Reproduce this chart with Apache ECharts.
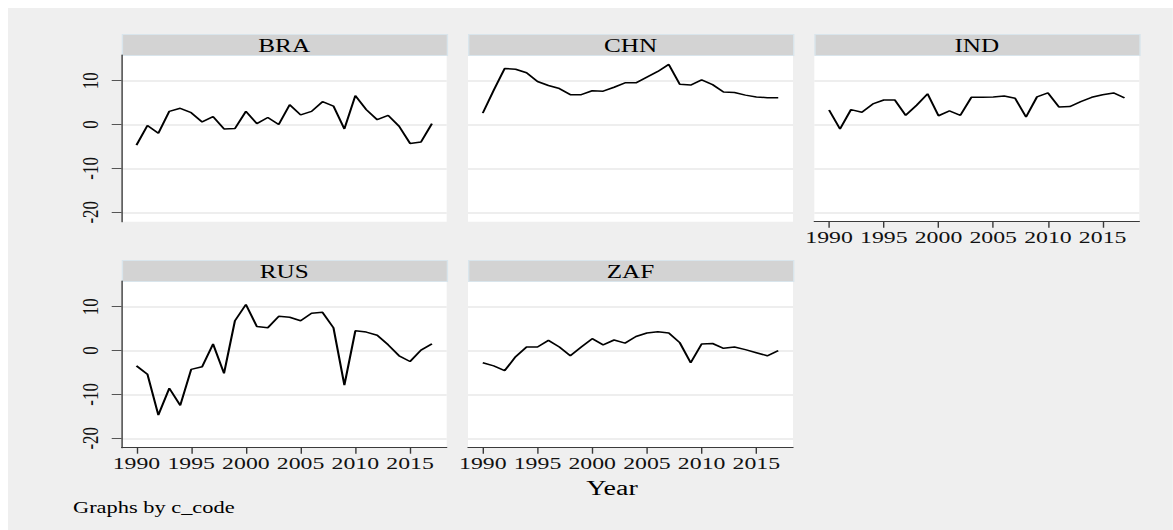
<!DOCTYPE html>
<html>
<head>
<meta charset="utf-8">
<script src="https://cdn.jsdelivr.net/npm/echarts@6/dist/echarts.min.js"></script>
<style>
  html, body { margin: 0; padding: 0; background: #ffffff; width: 1173px; height: 530px; overflow: hidden; }
  #chart {
    position: absolute; left: 8px; top: 8px;
    height: 522px;
    background: #efefef;
    transform-origin: 0 0;
  }
</style>
</head>
<body>
<div id="chart"></div>
<script>
// Annual values by country, 1990-2017
const years = [1990,1991,1992,1993,1994,1995,1996,1997,1998,1999,2000,2001,2002,2003,
               2004,2005,2006,2007,2008,2009,2010,2011,2012,2013,2014,2015,2016,2017];
const bra = [-4.7,-0.2,-2.0,3.0,3.7,2.7,0.6,1.8,-1.0,-0.9,3.0,0.2,1.6,0.0,
             4.5,2.2,3.0,5.2,4.2,-1.0,6.6,3.4,1.1,2.1,-0.4,-4.3,-4.0,0.2];
const chn = [2.6,7.8,12.8,12.6,11.8,9.8,8.9,8.2,6.8,6.8,7.7,7.6,8.5,9.5,
             9.5,10.8,12.1,13.7,9.2,9.0,10.2,9.1,7.4,7.3,6.7,6.3,6.1,6.1];
const ind = [3.3,-1.0,3.4,2.8,4.7,5.6,5.6,2.1,4.4,7.0,2.0,3.1,2.1,6.2,
             6.2,6.3,6.5,6.0,1.7,6.3,7.2,4.0,4.1,5.2,6.2,6.8,7.2,6.1];
const rus = [-3.5,-5.4,-14.7,-8.6,-12.5,-4.3,-3.7,1.5,-5.2,6.8,10.5,5.5,5.2,7.8,
             7.6,6.8,8.5,8.7,5.2,-7.9,4.5,4.2,3.5,1.3,-1.2,-2.5,0.1,1.5];
const zaf = [-2.8,-3.5,-4.6,-1.4,0.8,0.8,2.3,0.8,-1.2,0.8,2.7,1.3,2.4,1.7,
             3.2,4.0,4.3,4.0,1.8,-2.8,1.5,1.6,0.5,0.8,0.2,-0.5,-1.2,0.0];
const codes = ['BRA','CHN','IND','RUS','ZAF'];
const yTicks = [-20,-10,0,10];
const xTicks = [1990,1995,2000,2005,2010,2015];

// Layout (page pixels); text is drawn with a horizontal stretch S
const S = 1.4;
const PAGE_W = 1173, OFF = 8;
const el = document.getElementById('chart');
el.style.width = ((PAGE_W - OFF) / S) + 'px';
el.style.transform = 'scaleX(' + S + ')';
const px = x => (x - OFF) / S;
const py = y => y - OFF;

const colLeft = [121.7, 468, 814.3];
const plotW = 325;
const rowTop = [55, 281];
const plotH = 166.7;
const headH = 21;
const FONT = '"Liberation Serif", "DejaVu Serif", serif';
const plain = v => String(v);

const panels = [
  { code: codes[0], values: bra, col: 0, row: 0, yAxisShown: true,  xAxisShown: false },
  { code: codes[1], values: chn, col: 1, row: 0, yAxisShown: false, xAxisShown: false },
  { code: codes[2], values: ind, col: 2, row: 0, yAxisShown: false, xAxisShown: true  },
  { code: codes[3], values: rus, col: 0, row: 1, yAxisShown: true,  xAxisShown: true  },
  { code: codes[4], values: zaf, col: 1, row: 1, yAxisShown: false, xAxisShown: true  }
];

const grid = [], xAxis = [], yAxis = [], series = [], graphic = [];
panels.forEach((p, i) => {
  const left = colLeft[p.col], top = rowTop[p.row];
  grid.push({
    left: px(left), top: py(top), width: plotW / S, height: plotH,
    show: true, backgroundColor: '#ffffff', borderWidth: 0, containLabel: false
  });
  xAxis.push({
    gridIndex: i, type: 'value', min: 1988.65, max: 2018.35,
    splitLine: { show: false },
    axisLine: { show: p.xAxisShown, onZero: false, lineStyle: { color: '#3a3a3a', width: 1 } },
    axisTick: { show: p.xAxisShown, customValues: xTicks, length: 6, lineStyle: { color: '#3a3a3a', width: 1 } },
    axisLabel: { show: p.xAxisShown, customValues: xTicks, formatter: plain, margin: 7, fontSize: 17,
                 fontFamily: FONT, color: '#111' }
  });
  yAxis.push({
    gridIndex: i, type: 'value', min: -22.15, max: 15.85,
    splitLine: { show: true, lineStyle: { color: '#e9e9e9', width: 1.5 } },
    axisLine: { show: p.yAxisShown, onZero: false, lineStyle: { color: '#3a3a3a', width: 1 } },
    axisTick: { show: p.yAxisShown, customValues: yTicks, length: 10 / S, lineStyle: { color: '#555', width: 1 } },
    axisLabel: { show: p.yAxisShown, customValues: yTicks, formatter: plain, rotate: 90, margin: 20 / S, fontSize: 17,
                 fontFamily: FONT, color: '#111' }
  });
  series.push({
    type: 'line', xAxisIndex: i, yAxisIndex: i,
    data: years.map((yr, k) => [yr, p.values[k]]),
    showSymbol: false, symbol: 'none',
    lineStyle: { color: '#000', width: 1.5 },
    itemStyle: { color: '#000' },
    silent: true
  });
  // Panel header strip with the country code
  graphic.push({
    type: 'rect',
    left: px(left), top: py(top - headH),
    shape: { width: plotW / S, height: headH },
    style: { fill: '#d3d3d3', stroke: '#d9e5ec', lineWidth: 1 }
  });
  graphic.push({
    type: 'text',
    x: px(left + plotW / 2), y: py(top - headH / 2 + 1),
    style: { text: p.code, fill: '#000', font: '18px ' + FONT,
             textAlign: 'center', textVerticalAlign: 'middle' }
  });
});

graphic.push({
  type: 'text', x: px(612), y: py(488),
  style: { text: 'Year', fill: '#000', font: '20px ' + FONT,
           textAlign: 'center', textVerticalAlign: 'middle' }
});
graphic.push({
  type: 'text', x: px(73), y: py(508),
  style: { text: 'Graphs by c_code', fill: '#000', font: '16px ' + FONT,
           textAlign: 'left', textVerticalAlign: 'middle' }
});

const chart = echarts.init(el, null, { renderer: 'svg' });
chart.setOption({
  animation: false,
  backgroundColor: 'transparent',
  grid, xAxis, yAxis, series, graphic
});
</script>
</body>
</html>
